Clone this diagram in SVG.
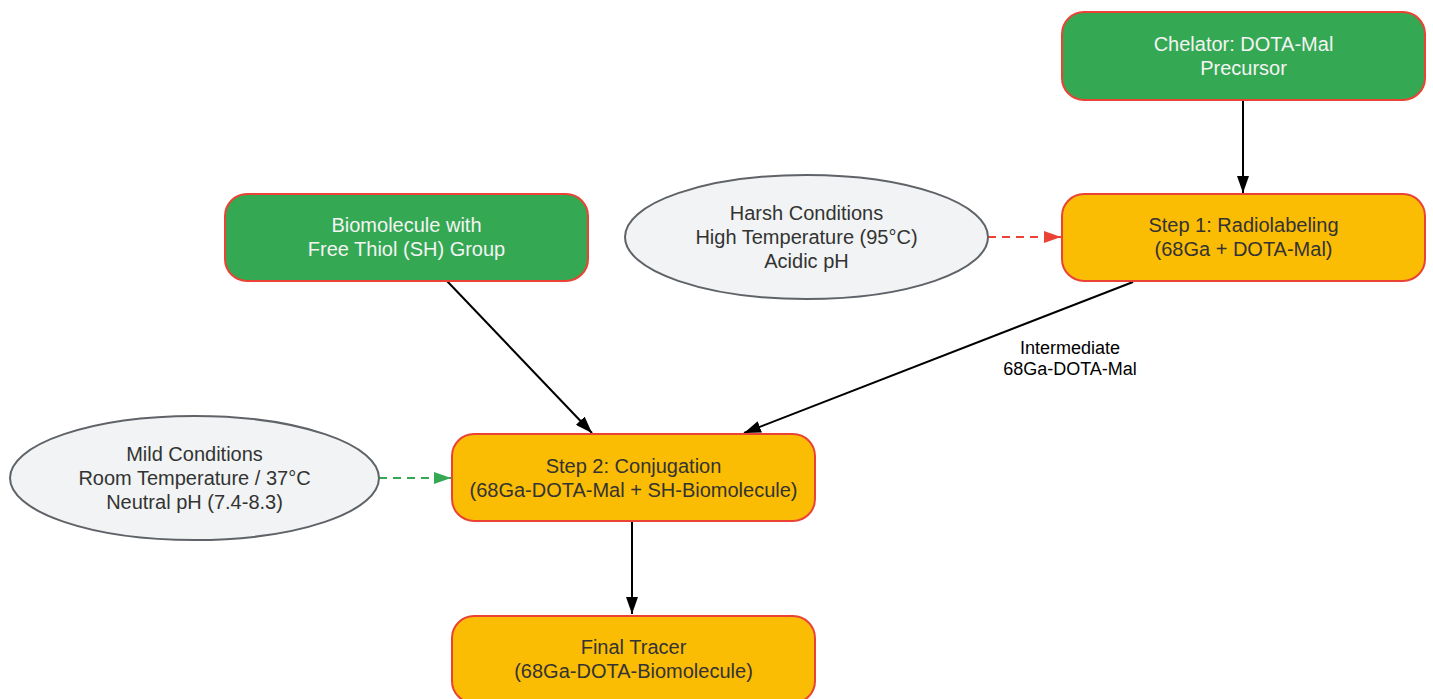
<svg xmlns="http://www.w3.org/2000/svg" width="1433" height="699" viewBox="0 0 1433 699">
<defs>
<style>
.g{fill:#34a853;stroke:#ea4335;stroke-width:2}
.y{fill:#fbbc04;stroke:#ea4335;stroke-width:2}
.e{fill:#f1f3f4;stroke:#5f6368;stroke-width:2}
text{font-family:"Liberation Sans",Arial,sans-serif;font-size:20px;text-anchor:middle}
.tw{fill:#f4f4f4}
.td{fill:#333333}
.lbl{font-size:18px;fill:#000}
.k{stroke:#000;stroke-width:2;fill:none}
.dr{stroke:#ea4335;stroke-width:2;fill:none;stroke-dasharray:8,6}
.dg{stroke:#34a853;stroke-width:2;fill:none;stroke-dasharray:8,6}
</style>
<marker id="ak" viewBox="0 0 17 12" refX="17" refY="6" markerWidth="17" markerHeight="12" markerUnits="userSpaceOnUse" orient="auto"><path d="M0,0L17,6L0,12z" fill="#000"/></marker>
<marker id="ar" viewBox="0 0 17 12" refX="17" refY="6" markerWidth="17" markerHeight="12" markerUnits="userSpaceOnUse" orient="auto"><path d="M0,0L17,6L0,12z" fill="#ea4335"/></marker>
<marker id="ag" viewBox="0 0 17 12" refX="17" refY="6" markerWidth="17" markerHeight="12" markerUnits="userSpaceOnUse" orient="auto"><path d="M0,0L17,6L0,12z" fill="#34a853"/></marker>
</defs>
<g id="connectors">
<line class="k" x1="1243" y1="100" x2="1243" y2="193" marker-end="url(#ak)"/>
<line class="dr" x1="988" y1="237" x2="1061" y2="237" marker-end="url(#ar)"/>
<line class="k" x1="447" y1="281" x2="592" y2="433" marker-end="url(#ak)"/>
<line class="k" x1="1133" y1="282" x2="744" y2="433" marker-end="url(#ak)"/>
<line class="dg" x1="379" y1="478" x2="451" y2="478" marker-end="url(#ag)"/>
<line class="k" x1="632" y1="521" x2="632" y2="614" marker-end="url(#ak)"/>
<text class="lbl" x="1070" y="354">Intermediate</text>
<text class="lbl" x="1070" y="375">68Ga-DOTA-Mal</text>
</g>
<g id="chelator">
<rect class="g" x="1062" y="12" width="363" height="88" rx="22"/>
<text class="tw" x="1243.5" y="51">Chelator: DOTA-Mal</text>
<text class="tw" x="1243.5" y="75">Precursor</text>
</g>
<g id="step1">
<rect class="y" x="1062" y="194" width="363" height="87" rx="22"/>
<text class="td" x="1243.5" y="232">Step 1: Radiolabeling</text>
<text class="td" x="1243.5" y="256">(68Ga + DOTA-Mal)</text>
</g>
<g id="harsh">
<ellipse class="e" cx="806.5" cy="237" rx="181.5" ry="62"/>
<text class="td" x="806.5" y="220">Harsh Conditions</text>
<text class="td" x="806.5" y="244">High Temperature (95°C)</text>
<text class="td" x="806.5" y="268">Acidic pH</text>
</g>
<g id="biomolecule">
<rect class="g" x="225" y="194" width="363" height="87" rx="22"/>
<text class="tw" x="406.5" y="232">Biomolecule with</text>
<text class="tw" x="406.5" y="256">Free Thiol (SH) Group</text>
</g>
<g id="mild">
<ellipse class="e" cx="194.5" cy="478" rx="184.5" ry="62"/>
<text class="td" x="194.5" y="461">Mild Conditions</text>
<text class="td" x="194.5" y="485">Room Temperature / 37°C</text>
<text class="td" x="194.5" y="509">Neutral pH (7.4-8.3)</text>
</g>
<g id="step2">
<rect class="y" x="452" y="434" width="363" height="87" rx="22"/>
<text class="td" x="633.5" y="473">Step 2: Conjugation</text>
<text class="td" x="633.5" y="497">(68Ga-DOTA-Mal + SH-Biomolecule)</text>
</g>
<g id="final">
<rect class="y" x="452" y="616" width="363" height="87" rx="22"/>
<text class="td" x="633.5" y="654">Final Tracer</text>
<text class="td" x="633.5" y="678">(68Ga-DOTA-Biomolecule)</text>
</g>
</svg>
